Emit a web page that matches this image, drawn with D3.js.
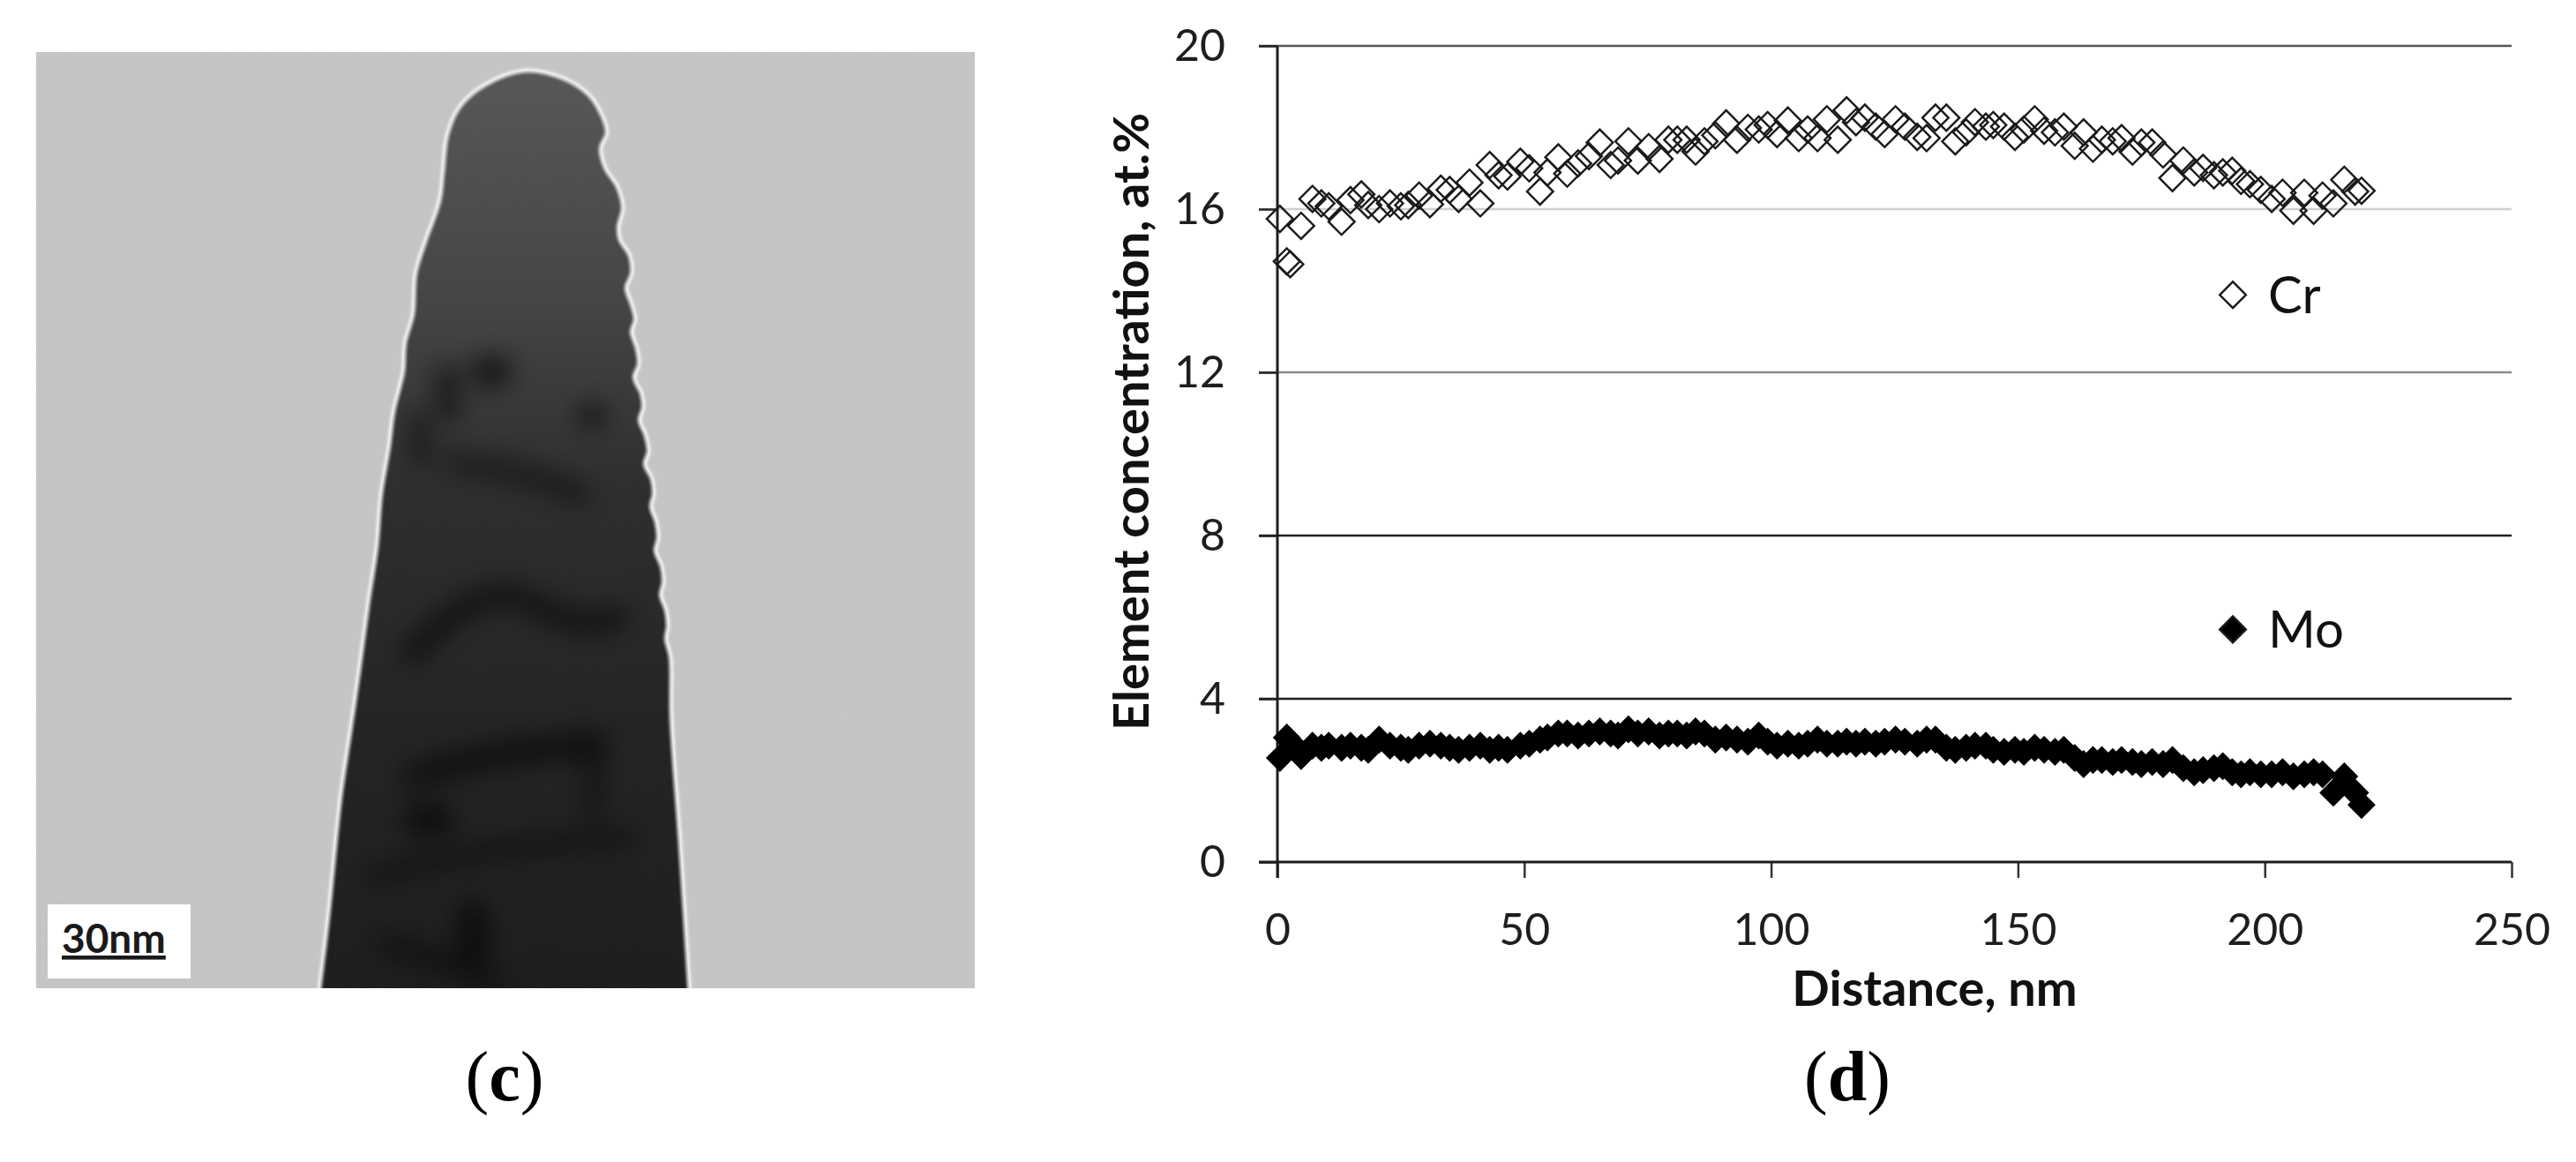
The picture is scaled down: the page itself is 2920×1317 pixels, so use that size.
<!DOCTYPE html>
<html lang="en">
<head>
<meta charset="utf-8">
<script src="https://d3js.org/d3.v7.min.js"></script>
<style>
  body { margin: 0; background: #fff; }
  svg { display: block; }
</style>
</head>
<body>
<script>
// line scan along the tip, distance in nm
var distance = [0.5, 1.9, 2.6, 4.8, 7.1, 8.9, 10.4, 13.0, 14.8, 17.0, 18.4, 20.6, 22.8, 25.0, 26.5, 28.7, 30.9, 33.1, 34.9, 36.7,
  38.9, 41.1, 43.0, 44.8, 46.6, 49.2, 51.0, 53.2, 54.7, 56.9, 58.7, 60.9, 63.1, 65.3, 67.5, 69.0, 71.1, 73.0, 75.2, 77.4,
  79.2, 81.0, 82.9, 84.7, 86.5, 88.7, 90.9, 93.1, 95.3, 97.5, 99.3, 101.2, 103.4, 105.6, 107.4, 109.4, 111.3, 113.5, 115.3, 117.2,
  119.0, 121.2, 123.0, 125.2, 127.1, 129.6, 131.5, 133.3, 135.5, 137.3, 139.5, 141.3, 143.5, 145.0, 147.2, 149.4, 151.2, 153.4, 155.3, 157.5,
  159.3, 161.5, 163.3, 165.2, 167.0, 169.2, 171.0, 173.2, 175.0, 177.2, 179.4, 181.3, 183.5, 185.7, 187.5, 189.7, 191.5, 193.4, 195.2, 197.0,
  199.2, 201.4, 203.6, 205.8, 208.0, 209.9, 211.7, 213.9, 216.1, 218.3, 219.6];

var cr = [15.76, 14.72, 14.65, 15.59, 16.25, 16.14, 16.07, 15.69, 16.22, 16.36, 16.10, 16.00, 16.14, 16.07, 16.10, 16.33, 16.12, 16.50, 16.47, 16.25,
  16.65, 16.14, 17.08, 16.83, 16.80, 17.16, 17.00, 16.43, 16.90, 17.27, 16.87, 17.12, 17.30, 17.63, 17.08, 17.19, 17.66, 17.19, 17.52, 17.23,
  17.70, 17.70, 17.70, 17.41, 17.66, 17.81, 18.10, 17.70, 17.99, 17.95, 18.06, 17.84, 18.17, 17.74, 17.95, 17.74, 18.20, 17.70, 18.42, 18.13,
  18.24, 18.02, 17.84, 18.20, 18.02, 17.77, 17.74, 18.24, 18.24, 17.66, 17.88, 18.13, 18.02, 18.06, 18.02, 17.77, 17.95, 18.20, 17.92, 17.88,
  18.02, 17.55, 17.88, 17.48, 17.70, 17.66, 17.74, 17.41, 17.63, 17.63, 17.34, 16.76, 17.19, 16.90, 17.01, 16.83, 16.90, 16.94, 16.69, 16.61,
  16.47, 16.25, 16.40, 15.96, 16.40, 15.96, 16.33, 16.14, 16.72, 16.43, 16.45];

var mo = [2.55, 3.05, 2.95, 2.60, 2.85, 2.80, 2.85, 2.80, 2.85, 2.80, 2.75, 3.00, 2.85, 2.80, 2.75, 2.85, 2.90, 2.85, 2.80, 2.75,
  2.80, 2.85, 2.75, 2.80, 2.75, 2.85, 2.90, 3.00, 3.05, 3.15, 3.15, 3.10, 3.15, 3.20, 3.15, 3.10, 3.25, 3.15, 3.20, 3.10,
  3.15, 3.15, 3.10, 3.20, 3.15, 3.00, 3.05, 3.00, 2.95, 3.10, 2.95, 2.85, 2.90, 2.85, 2.90, 3.00, 2.90, 2.90, 2.95, 2.90,
  2.95, 2.90, 2.95, 3.00, 2.95, 2.90, 3.00, 3.00, 2.80, 2.75, 2.80, 2.85, 2.85, 2.75, 2.70, 2.75, 2.70, 2.80, 2.75, 2.70,
  2.75, 2.55, 2.40, 2.50, 2.50, 2.45, 2.50, 2.45, 2.40, 2.45, 2.40, 2.50, 2.30, 2.20, 2.25, 2.30, 2.35, 2.20, 2.15, 2.20,
  2.15, 2.15, 2.20, 2.10, 2.15, 2.20, 2.15, 1.70, 2.10, 1.70, 1.40];

var xTicks = [0, 50, 100, 150, 200, 250];
var yTicks = [0, 4, 8, 12, 16, 20];
var seriesNames = ["Cr", "Mo"];
var legendAt = [13.9, 5.7];   // legend rows sit at these y values

// outline of the tip in the micrograph (panel c), pixel positions in the photo
var tipLeft = [[361,1130],[372,1040],[386,904],[397,830],[407,761],[418,680],[427,620],[432,560],[441,506],[446,467],
  [457,421],[459,389],[468,356],[471,310],[482,274],[498,228],[502,196],[507,153],[521,121],[550,96],[596,80]];
var tipRight = [[639,89],[668,108],[682,130],[688,150],[681,168],[686,190],[700,212],[706,235],[701,258],[703,272],
  [714,290],[716,310],[710,326],[716,345],[720,362],[716,376],[722,395],[724,413],[719,428],[727,446],[729,462],
  [725,476],[732,494],[735,512],[731,526],[739,543],[741,560],[738,574],[744,592],[746,610],[743,624],[750,642],
  [752,660],[749,674],[755,692],[757,710],[755,724],[760,745],[761,814],[771,957],[782,1130]];

var W = 2920, H = 1317;
var svg = d3.select("body").append("svg")
  .attr("width", W)
  .attr("height", H);

var defs = svg.append("defs");

// ---------- panel (c): micrograph ----------
var img = { x: 41, y: 59, w: 1064, h: 1061 };

defs.append("clipPath").attr("id", "imgClip")
  .append("rect").attr("x", img.x).attr("y", img.y).attr("width", img.w).attr("height", img.h);

var tipLine = d3.line().curve(d3.curveCatmullRom.alpha(0.5));
var tipPath = tipLine(tipLeft.concat(tipRight)) + "Z";
defs.append("clipPath").attr("id", "tipClip")
  .append("path").attr("d", tipPath);

var grad = defs.append("linearGradient").attr("id", "tipGrad")
  .attr("x1", 0).attr("y1", 0).attr("x2", 0).attr("y2", 1);
grad.append("stop").attr("offset", "0%").attr("stop-color", "#565656");
grad.append("stop").attr("offset", "25%").attr("stop-color", "#434343");
grad.append("stop").attr("offset", "45%").attr("stop-color", "#2c2c2c");
grad.append("stop").attr("offset", "70%").attr("stop-color", "#222222");
grad.append("stop").attr("offset", "100%").attr("stop-color", "#1b1b1b");

var blur = defs.append("filter").attr("id", "blurBig")
  .attr("filterUnits", "userSpaceOnUse")
  .attr("x", img.x).attr("y", img.y).attr("width", img.w).attr("height", img.h);
blur.append("feGaussianBlur").attr("stdDeviation", 14);

var blurSmall = defs.append("filter").attr("id", "blurSmall")
  .attr("filterUnits", "userSpaceOnUse")
  .attr("x", img.x).attr("y", img.y).attr("width", img.w).attr("height", img.h);
blurSmall.append("feGaussianBlur").attr("stdDeviation", 1.5);

var grain = defs.append("filter").attr("id", "grain")
  .attr("x", 0).attr("y", 0).attr("width", 1).attr("height", 1);
grain.append("feTurbulence").attr("type", "fractalNoise")
  .attr("baseFrequency", 0.7).attr("numOctaves", 2).attr("seed", 4);
grain.append("feColorMatrix").attr("type", "saturate").attr("values", 0);
grain.append("feComponentTransfer")
  .append("feFuncA").attr("type", "table").attr("tableValues", "0 0.04");

var photo = svg.append("g").attr("clip-path", "url(#imgClip)");
photo.append("rect")
  .attr("x", img.x).attr("y", img.y).attr("width", img.w).attr("height", img.h)
  .attr("fill", "#c5c5c5");

photo.append("path")
  .attr("d", tipPath)
  .attr("fill", "url(#tipGrad)");

// inner contrast: grain boundaries and dark spots, kept inside the tip
var inner = photo.append("g").attr("clip-path", "url(#tipClip)")
  .append("g").attr("filter", "url(#blurBig)");

var streaks = [
  { p: [[468,740],[500,704],[550,675],[586,671],[657,714],[700,700]], w: 26, o: 0.6 },
  { p: [[471,879],[550,857],[620,848],[675,843]], w: 30, o: 0.6 },
  { p: [[671,850],[673,885],[671,921]], w: 22, o: 0.45 },
  { p: [[425,993],[490,975],[550,964],[640,955],[711,950]], w: 20, o: 0.5 },
  { p: [[507,425],[507,445],[509,465]], w: 26, o: 0.6 },
  { p: [[475,474],[476,495],[478,518]], w: 22, o: 0.55 },
  { p: [[514,524],[571,531],[620,545],[657,560]], w: 26, o: 0.45 },
  { p: [[536,1036],[537,1055],[536,1078]], w: 32, o: 0.7 },
  { p: [[440,1070],[500,1090],[560,1110]], w: 26, o: 0.45 }
];
var streakLine = d3.line().curve(d3.curveBasis);
inner.selectAll("path.streak")
  .data(streaks).enter().append("path")
  .attr("class", "streak")
  .attr("d", function(s) { return streakLine(s.p); })
  .attr("fill", "none").attr("stroke", "#050505")
  .attr("stroke-linecap", "round")
  .attr("stroke-width", function(s) { return s.w; })
  .attr("stroke-opacity", function(s) { return s.o; });

var blobs = [[557,421,24,18],[486,929,30,18],[671,471,16,14]];
inner.selectAll("ellipse.dark")
  .data(blobs).enter().append("ellipse")
  .attr("class", "dark")
  .attr("cx", function(d) { return d[0]; })
  .attr("cy", function(d) { return d[1]; })
  .attr("rx", function(d) { return d[2]; })
  .attr("ry", function(d) { return d[3]; })
  .attr("fill", "#050505").attr("fill-opacity", 0.7);

// bright fringe round the tip
photo.append("path")
  .attr("d", tipPath)
  .attr("fill", "none")
  .attr("stroke", "#ffffff")
  .attr("stroke-width", 5)
  .attr("stroke-opacity", 0.8)
  .attr("filter", "url(#blurSmall)");

photo.append("rect")
  .attr("x", img.x).attr("y", img.y).attr("width", img.w).attr("height", img.h)
  .attr("filter", "url(#grain)");

// scale bar
photo.append("rect").attr("x", 54).attr("y", 1025).attr("width", 162).attr("height", 84).attr("fill", "#fff");
svg.append("text")
  .attr("x", 70).attr("y", 1080)
  .attr("font-family", "Lato, 'Open Sans', sans-serif")
  .attr("font-weight", 700).attr("font-size", 46)
  .attr("fill", "#1a1a1a")
  .attr("text-decoration", "underline")
  .text("30nm");

// panel letters
function panelLabel(cx, letter) {
  var t = svg.append("text")
    .attr("x", cx).attr("y", 1247)
    .attr("text-anchor", "middle")
    .attr("font-family", "'Liberation Serif', 'DejaVu Serif', serif")
    .attr("font-size", 80)
    .attr("fill", "#000");
  t.append("tspan").text("(");
  t.append("tspan").attr("font-weight", 700).text(letter);
  t.append("tspan").text(")");
}
panelLabel(572, "c");
panelLabel(2094, "d");

// ---------- panel (d): concentration profile ----------
var x = d3.scaleLinear().domain([0, 250]).range([1448, 2847]);
var y = d3.scaleLinear().domain([0, 20]).range([977, 52]);

var font = "Lato, 'Open Sans', sans-serif";
var gridShade = { 4: "#1e1e1e", 8: "#1e1e1e", 12: "#8a8a8a", 16: "#d0d0d0", 20: "#555555" };

svg.append("g").selectAll("line")
  .data(yTicks.filter(function(d) { return d > 0; }))
  .enter().append("line")
  .attr("x1", x(0) - 21).attr("x2", x(250))
  .attr("y1", function(d) { return y(d); })
  .attr("y2", function(d) { return y(d); })
  .attr("stroke", function(d) { return gridShade[d]; })
  .attr("stroke-width", 2.5);

var yAxis = svg.append("g")
  .attr("transform", "translate(" + x(0) + ",0)")
  .call(d3.axisLeft(y).tickValues(yTicks).tickSize(21).tickPadding(38).tickSizeOuter(0));
yAxis.select(".domain").remove();
yAxis.selectAll(".tick line").attr("stroke", "#222").attr("stroke-width", 2.5);
yAxis.selectAll("text")
  .attr("font-family", font).attr("font-size", 50).attr("fill", "#1e1e1e");

var xAxis = svg.append("g")
  .attr("transform", "translate(0," + y(0) + ")")
  .call(d3.axisBottom(x).tickValues(xTicks).tickSize(18).tickPadding(40).tickSizeOuter(0));
xAxis.select(".domain").remove();
xAxis.selectAll(".tick line").attr("stroke", "#333").attr("stroke-width", 2.5);
xAxis.selectAll("text")
  .attr("font-family", font).attr("font-size", 50).attr("fill", "#1e1e1e");

// axis lines
svg.append("line")
  .attr("x1", x(0) - 21).attr("x2", x(250))
  .attr("y1", y(0)).attr("y2", y(0))
  .attr("stroke", "#1e1e1e").attr("stroke-width", 3);
svg.append("line")
  .attr("x1", x(0)).attr("x2", x(0))
  .attr("y1", y(20)).attr("y2", y(0) + 18)
  .attr("stroke", "#1e1e1e").attr("stroke-width", 3);

svg.append("text")
  .attr("x", 2193).attr("y", 1140)
  .attr("text-anchor", "middle")
  .attr("font-family", font).attr("font-weight", 700).attr("font-size", 56)
  .attr("fill", "#111")
  .text("Distance, nm");

svg.append("text")
  .attr("transform", "translate(1302,478) rotate(-90)")
  .attr("text-anchor", "middle")
  .attr("font-family", font).attr("font-weight", 700).attr("font-size", 56)
  .attr("fill", "#111")
  .text("Element concentration, at.%");

var diamond = d3.symbol().type(d3.symbolSquare).size(440);

var crPts = distance.map(function(d, i) { return [d, cr[i]]; });
var moPts = distance.map(function(d, i) { return [d, mo[i]]; });

svg.append("g").selectAll("path")
  .data(moPts).enter().append("path")
  .attr("d", diamond)
  .attr("transform", function(d) { return "translate(" + x(d[0]) + "," + y(d[1]) + ") rotate(45)"; })
  .attr("fill", "#000").attr("stroke", "#000").attr("stroke-width", 1.5);

svg.append("g").selectAll("path")
  .data(crPts).enter().append("path")
  .attr("d", diamond)
  .attr("transform", function(d) { return "translate(" + x(d[0]) + "," + y(d[1]) + ") rotate(45)"; })
  .attr("fill", "none").attr("stroke", "#1a1a1a").attr("stroke-width", 2.4);

// legend
var legend = svg.append("g").selectAll("g")
  .data(seriesNames).enter().append("g")
  .attr("transform", function(d, i) { return "translate(2531," + y(legendAt[i]) + ")"; });
legend.append("path")
  .attr("d", diamond)
  .attr("transform", "rotate(45)")
  .attr("fill", function(d, i) { return i === 0 ? "#fff" : "#000"; })
  .attr("stroke", "#1a1a1a").attr("stroke-width", 2.4);
legend.append("text")
  .attr("x", 40).attr("dy", "0.36em")
  .attr("font-family", font).attr("font-size", 58)
  .attr("fill", "#111")
  .text(function(d) { return d; });
</script>
</body>
</html>
